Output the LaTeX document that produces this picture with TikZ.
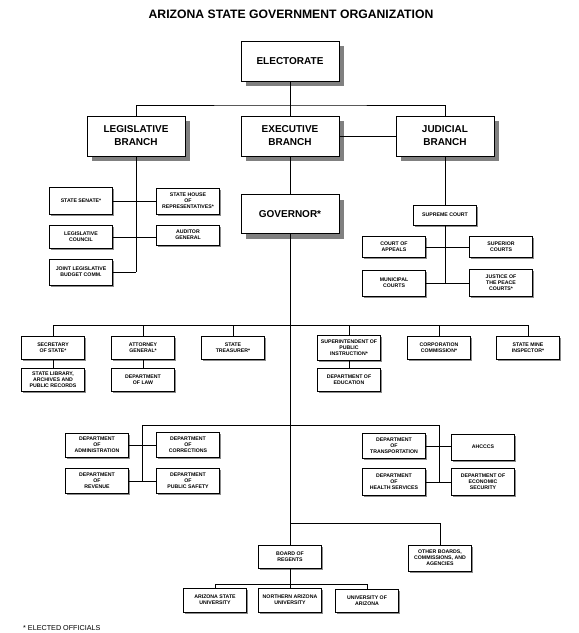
\documentclass[tikz,border=0pt]{standalone}
\usepackage{fontspec}
\setmainfont{Liberation Sans}
\usetikzlibrary{shadows}
\tikzset{
  bigbox/.style ={draw=black,line width=0.9pt,fill=white,minimum width=98pt,
                  minimum height=40pt,inner sep=1pt,align=center,
                  font=\bfseries\fontsize{10}{13}\selectfont,
                  drop shadow={shadow xshift=5pt,shadow yshift=-5pt,
                               fill=black!50,opacity=1}},
  smbox/.style  ={draw=black,line width=0.7pt,fill=white,minimum width=63pt,
                  minimum height=#1,inner sep=0.5pt,align=center,
                  font=\bfseries\fontsize{5.2}{6}\selectfont,
                  drop shadow={shadow xshift=1.6pt,shadow yshift=-1.6pt,
                               fill=black!45,opacity=1}},
  smbox/.default=23pt,
  ln/.style     ={draw=black,line width=0.8pt},
}

\begin{document}
\begin{tikzpicture}[x=1pt, y=-1pt]
\useasboundingbox (0,0) rectangle (579,633);

%% ---------------- title and note ----------------
\node[font=\bfseries\fontsize{12.2}{14}\selectfont] (title) at (291,14)
  {ARIZONA STATE GOVERNMENT ORGANIZATION};
\node[anchor=west,inner sep=0pt,font=\fontsize{7.2}{8}\selectfont] (note) at (23,628)
  {* ELECTED OFFICIALS};

%% ---------------- top levels ----------------
\node[bigbox] (elect) at (290, 61) {ELECTORATE};
\node[bigbox] (legis) at (136,136) {LEGISLATIVE\\BRANCH};
\node[bigbox] (exec)  at (290,136) {EXECUTIVE\\BRANCH};
\node[bigbox] (judic) at (445,136) {JUDICIAL\\BRANCH};
\node[bigbox,minimum height=39pt] (gov) at (290,214) {GOVERNOR*};

%% ---------------- legislative ----------------
\node[smbox=27pt] (senate)  at ( 81,201) {STATE SENATE*};
\node[smbox=26pt] (house)   at (188,201) {STATE HOUSE\\OF\\REPRESENTATIVES*};
\node[smbox=23pt] (council) at ( 81,237) {LEGISLATIVE\\COUNCIL};
\node[smbox=20pt] (auditor) at (188,235) {AUDITOR\\GENERAL};
\node[smbox=26pt] (joint)   at ( 81,272) {JOINT LEGISLATIVE\\BUDGET COMM.};

%% ---------------- judicial ----------------
\node[smbox=20pt] (supreme)   at (445,215) {SUPREME COURT};
\node[smbox=21pt] (appeals)   at (394,247) {COURT OF\\APPEALS};
\node[smbox=21pt] (superior)  at (501,247) {SUPERIOR\\COURTS};
\node[smbox=26pt] (municipal) at (394,283) {MUNICIPAL\\COURTS};
\node[smbox=27pt] (justice)   at (501,283) {JUSTICE OF\\THE PEACE\\COURTS*};

%% ---------------- elected officers ----------------
\node[smbox] (secy)   at ( 53,348) {SECRETARY\\OF STATE*};
\node[smbox] (attgen) at (143,348) {ATTORNEY\\GENERAL*};
\node[smbox] (treas)  at (233,348) {STATE\\TREASURER*};
\node[smbox=25pt] (supt) at (349,348) {SUPERINTENDENT OF\\PUBLIC\\INSTRUCTION*};
\node[smbox] (corp)   at (439,348) {CORPORATION\\COMMISSION*};
\node[smbox] (mine)   at (528,348) {STATE MINE\\INSPECTOR*};

\node[smbox] (library) at ( 53,380) {STATE LIBRARY,\\ARCHIVES AND\\PUBLIC RECORDS};
\node[smbox] (law)     at (143,380) {DEPARTMENT\\OF LAW};
\node[smbox] (educ)    at (349,380) {DEPARTMENT OF\\EDUCATION};

%% ---------------- departments ----------------
\node[smbox=24pt] (admin)   at ( 97,445) {DEPARTMENT\\OF\\ADMINISTRATION};
\node[smbox=25pt] (corr)    at (188,445) {DEPARTMENT\\OF\\CORRECTIONS};
\node[smbox=25pt] (revenue) at ( 97,481) {DEPARTMENT\\OF\\REVENUE};
\node[smbox=25pt] (safety)  at (188,481) {DEPARTMENT\\OF\\PUBLIC SAFETY};

\node[smbox=25pt] (transp)  at (394,446) {DEPARTMENT\\OF\\TRANSPORTATION};
\node[smbox=26pt] (ahcccs)  at (483,447) {AHCCCS};
\node[smbox=27pt] (health)  at (394,482) {DEPARTMENT\\OF\\HEALTH SERVICES};
\node[smbox=27pt] (econ)    at (483,482) {DEPARTMENT OF\\ECONOMIC\\SECURITY};

%% ---------------- regents and others ----------------
\node[smbox=23pt] (regents) at (290,557) {BOARD OF\\REGENTS};
\node[smbox=26pt] (other)   at (440,558) {OTHER BOARDS,\\COMMISSIONS, AND\\AGENCIES};
\node[smbox=24pt] (asu) at (215,600) {ARIZONA STATE\\UNIVERSITY};
\node[smbox=24pt] (nau) at (290,600) {NORTHERN ARIZONA\\UNIVERSITY};
\node[smbox=23pt] (ua)  at (367,601) {UNIVERSITY OF\\ARIZONA};

%% ---------------- junction points ----------------
\coordinate (topbar) at (290,105);
\coordinate (row)    at (290,325);
\coordinate (deptL)  at (142,425);
\coordinate (deptR)  at (439,425);
\coordinate (lowbar) at (290,523);
\coordinate (unibar) at (290,584);

%% ---------------- connectors ----------------
\draw[ln] (elect) -- (exec);
\draw[ln] (legis.north) |- (topbar) -| (judic.north);
\draw[ln] (exec) -- (judic);
\draw[ln] (exec) -- (gov);
\draw[ln] (gov) -- (regents);

%% legislative spine
\draw[ln] (legis.south) -- (legis.south |- joint);
\foreach \u/\v in {senate/house, council/auditor}{
  \draw[ln] (\u.east) -- (\u.east -| \v.west);
}
\draw[ln] (joint.east) -- (joint -| legis.south);

%% judicial spine
\draw[ln] (judic) -- (supreme);
\draw[ln] (supreme.south) -- (supreme.south |- justice);
\foreach \u/\v in {appeals/superior, municipal/justice}{
  \draw[ln] (\u.east) -- (\u.east -| \v.west);
}

%% row of elected officers
\draw[ln] (secy.north |- row) -- (mine.north |- row);
\foreach \n in {secy,attgen,treas,supt,corp,mine}{
  \draw[ln] (\n.north) -- (\n.north |- row);
}
\foreach \u/\v in {secy/library, attgen/law, supt/educ}{
  \draw[ln] (\u) -- (\v);
}

%% departments
\draw[ln] (deptL) -- (deptR);
\draw[ln] (deptL) -- (deptL |- revenue);
\draw[ln] (deptR) -- (deptR |- econ);
\foreach \u/\v in {admin/corr, revenue/safety, transp/ahcccs, health/econ}{
  \draw[ln] (\u.east) -- (\u.east -| \v.west);
}

%% regents and universities
\draw[ln] (other.north) |- (lowbar);
\draw[ln] (regents.south) -- (unibar);
\draw[ln] (asu.north |- unibar) -- (ua.north |- unibar);
\foreach \n in {asu,nau,ua}{
  \draw[ln] (\n.north) -- (\n.north |- unibar);
}

\end{tikzpicture}
\end{document}
